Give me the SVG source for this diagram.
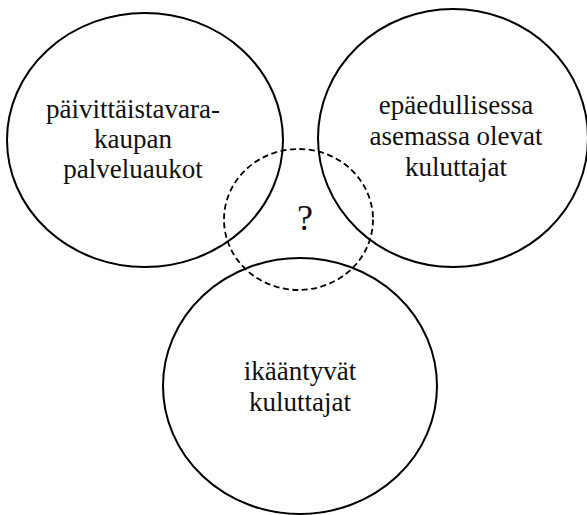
<svg xmlns="http://www.w3.org/2000/svg" width="587" height="515" viewBox="0 0 587 515">
<style>
.c{fill:none;stroke:#000;stroke-width:2}
.d{fill:none;stroke:#000;stroke-width:1.8;stroke-dasharray:6 3.5}
.t{font-family:'Liberation Serif','Times New Roman',Tinos,'DejaVu Serif',serif;font-size:27px;fill:#111;text-anchor:middle}
</style>
<rect width="587" height="515" fill="#fff"/>
<g id="left">
<ellipse class="c" cx="145" cy="140" rx="138" ry="127"/>
<text class="t" x="133" y="118">päivittäistavara-</text>
<text class="t" x="133" y="148">kaupan</text>
<text class="t" x="133" y="178">palveluaukot</text>
</g>
<g id="right">
<ellipse class="c" cx="453" cy="138" rx="135" ry="129"/>
<text class="t" x="456" y="114">epäedullisessa</text>
<text class="t" x="456" y="145">asemassa olevat</text>
<text class="t" x="456" y="176">kuluttajat</text>
</g>
<g id="bottom">
<ellipse class="c" cx="300" cy="386" rx="137" ry="128"/>
<text class="t" x="300" y="380">ikääntyvät</text>
<text class="t" x="300" y="411">kuluttajat</text>
</g>
<g id="center">
<ellipse class="d" cx="298.5" cy="219.5" rx="74.5" ry="70.5"/>
<text class="t" x="305" y="230" style="font-size:36px">?</text>
</g>
<g id="connectors"></g>
</svg>
